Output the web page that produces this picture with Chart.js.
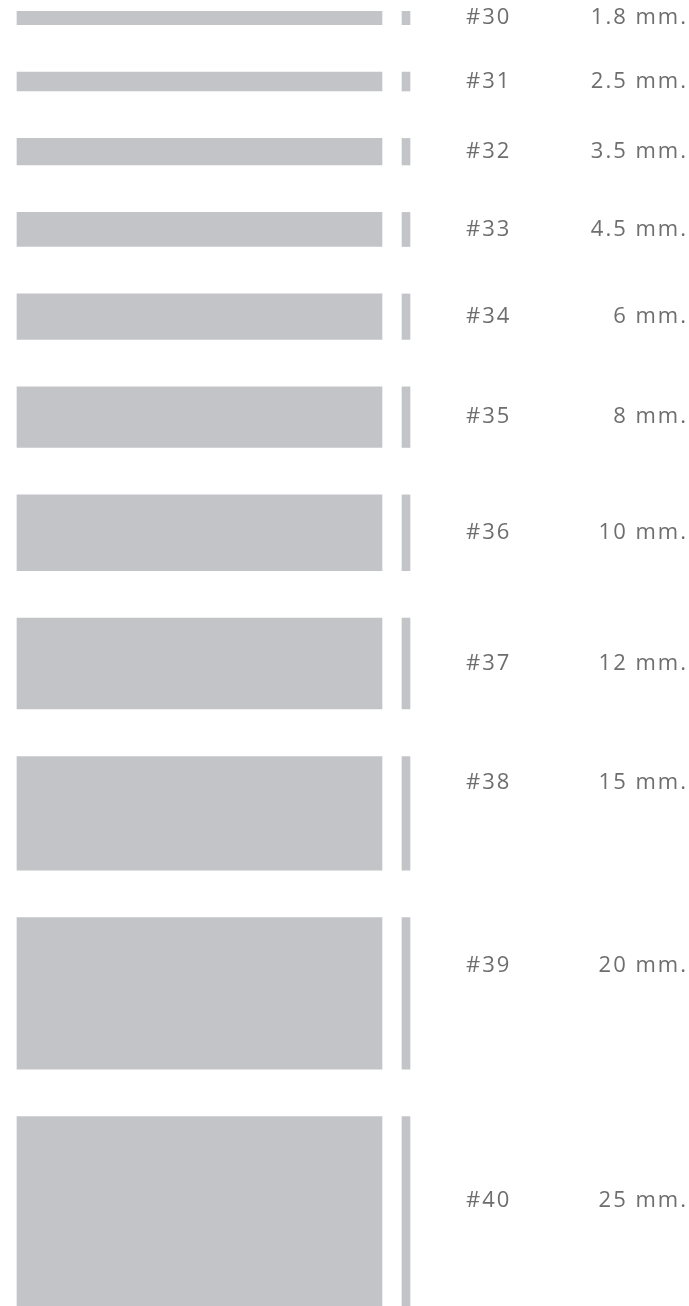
<!DOCTYPE html>
<html>
<head>
<meta charset="utf-8">
<script src="https://cdn.jsdelivr.net/npm/chart.js@4.4.1/dist/chart.umd.min.js"></script>
<style>
  html, body { margin: 0; padding: 0; background: #fff; }
  #chart-container { width: 689px; height: 1306px; }
</style>
</head>
<body>
<div id="chart-container"><canvas id="myChart" width="689" height="1306"></canvas></div>
<script>
// gauge numbers and their thickness
const gauges = ['#30', '#31', '#32', '#33', '#34', '#35', '#36', '#37', '#38', '#39', '#40'];
const sizesMm = [1.8, 2.5, 3.5, 4.5, 6, 8, 10, 12, 15, 20, 25];
const sizeLabels = ['1.8 mm.', '2.5 mm.', '3.5 mm.', '4.5 mm.', '6 mm.', '8 mm.', '10 mm.', '12 mm.', '15 mm.', '20 mm.', '25 mm.'];

const gapMm = 6.26; // white space between rows, same unit as the sizes
const barColor = '#c3c4c8';
const textColor = '#6e6e6e';
const spacing = 2;
// the last labels sit a bit above the middle of their row in the original
const labelShift = [0, 0, 0, 0, 0, 0, 0, 0, -31, -28, -11];

// stack the rows from the top: each one spans [start, start + size]
const spans = [];
let pos = 0;
sizesMm.forEach(size => {
    spans.push([pos, pos + size]);
    pos += size + gapMm;
});
const total = pos - gapMm;

const labelPlugin = {
    id: 'rowLabels',
    afterDatasetsDraw(chart) {
        const ctx = chart.ctx;
        const xScale = chart.scales.x;
        const yScale = chart.scales.y;
        ctx.save();
        ctx.font = '22px "Open Sans"';
        ctx.letterSpacing = spacing + 'px';
        ctx.fillStyle = textColor;
        ctx.textBaseline = 'middle';
        spans.forEach((span, i) => {
            const y = yScale.getPixelForValue((span[0] + span[1]) / 2) + labelShift[i];
            ctx.textAlign = 'left';
            ctx.fillText(gauges[i], xScale.getPixelForValue(466), y);
            ctx.textAlign = 'right';
            ctx.fillText(sizeLabels[i], xScale.getPixelForValue(686) + spacing, y);
        });
        ctx.restore();
    }
};

const ctx = document.getElementById('myChart').getContext('2d');
const myChart = new Chart(ctx, {
    type: 'bar',
    data: {
        datasets: [
            {
                label: 'plate',
                data: spans.map(span => ({ x: 199.5, y: span })),
                backgroundColor: barColor,
                borderWidth: 0,
                barThickness: 365
            },
            {
                label: 'edge',
                data: spans.map(span => ({ x: 406, y: span })),
                backgroundColor: barColor,
                borderWidth: 0,
                barThickness: 8
            }
        ]
    },
    options: {
        responsive: false,
        animation: false,
        devicePixelRatio: 1,
        layout: { padding: { top: 11, left: 0, right: 0, bottom: 0 } },
        plugins: {
            legend: { display: false },
            tooltip: { enabled: false }
        },
        scales: {
            x: { type: 'linear', min: 0, max: 689, offset: false, stacked: true, display: false },
            y: { type: 'linear', min: 0, max: total, reverse: true, stacked: false, display: false }
        }
    },
    plugins: [labelPlugin]
});
</script>
</body>
</html>
